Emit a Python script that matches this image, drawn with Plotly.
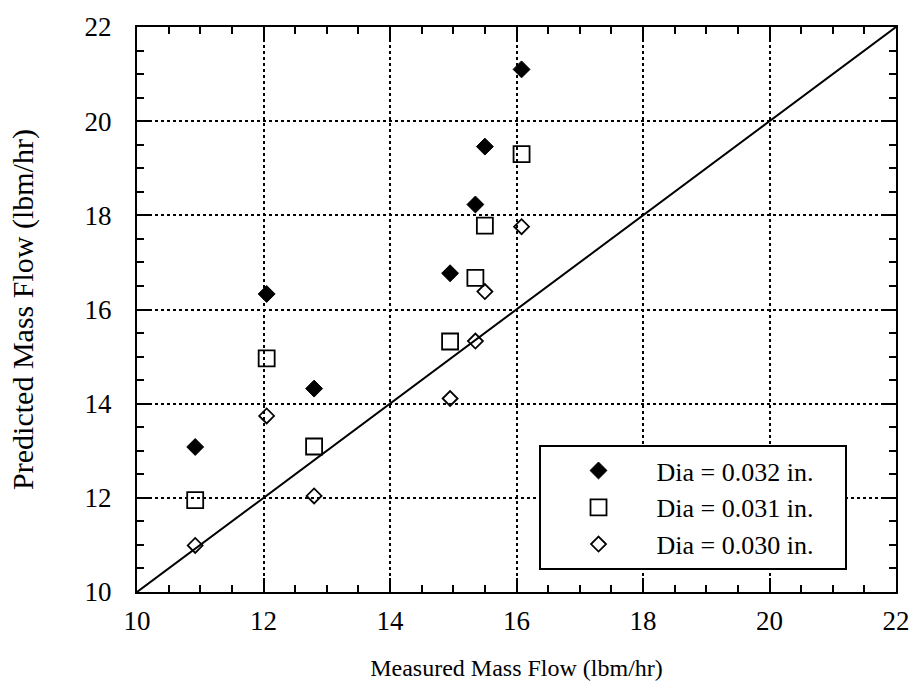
import plotly.graph_objects as go

# Measured vs predicted mass flow for three orifice diameters
measured = [10.92, 12.05, 12.8, 14.95, 15.35, 15.5, 16.08]
pred_032 = [13.08, 16.33, 14.32, 16.77, 18.23, 19.46, 21.1]
pred_031 = [11.95, 14.96, 13.09, 15.32, 16.67, 17.78, 19.3]
pred_030 = [10.99, 13.74, 12.04, 14.11, 15.33, 16.38, 17.76]
labels = ["Dia = 0.032 in.", "Dia = 0.031 in.", "Dia = 0.030 in."]
ref_line = [10, 22]

FONT = "Liberation Serif, Times New Roman, serif"
PAD = "\u00a0\u00a0\u00a0\u00a0"

fig = go.Figure()
fig.add_trace(go.Scatter(x=ref_line, y=ref_line, mode="lines",
                         line=dict(color="black", width=2), showlegend=False,
                         hoverinfo="skip"))
fig.add_trace(go.Scatter(x=measured, y=pred_032, mode="markers", name=labels[0] + PAD,
                         marker=dict(symbol="diamond", size=13, color="black",
                                     line=dict(color="black", width=1))))
fig.add_trace(go.Scatter(x=measured, y=pred_031, mode="markers", name=labels[1] + PAD,
                         marker=dict(symbol="square-open", size=16, color="black",
                                     line=dict(color="black", width=1.8))))
fig.add_trace(go.Scatter(x=measured, y=pred_030, mode="markers", name=labels[2] + PAD,
                         marker=dict(symbol="diamond-open", size=11.5, color="black",
                                     line=dict(color="black", width=1.8))))

axis_common = dict(
    range=[10, 22], dtick=2, tick0=10,
    showline=True, linecolor="black", linewidth=2, mirror="allticks",
    ticks="inside", ticklen=14, tickwidth=1.5, tickcolor="black",
    showgrid=True, gridcolor="black", griddash="dot", gridwidth=1.5,
    zeroline=False,
    minor=dict(dtick=0.5, ticks="inside", ticklen=7, tickwidth=1.5,
               tickcolor="black", showgrid=False),
    tickfont=dict(family=FONT, size=27, color="black"),
)

fig.update_xaxes(**axis_common, ticklabelstandoff=4,
                 title=dict(text="Measured Mass Flow (lbm/hr)", standoff=24,
                            font=dict(family=FONT, size=24, color="black")))
fig.update_yaxes(**axis_common, ticklabelstandoff=18,
                 title=dict(text="Predicted Mass Flow (lbm/hr)", standoff=42,
                            font=dict(family=FONT, size=30, color="black")))

fig.update_layout(
    width=922, height=689,
    margin=dict(l=137, r=12, t=24, b=96),
    plot_bgcolor="white", paper_bgcolor="white",
    font=dict(family=FONT, color="black"),
    legend=dict(x=0.529, y=0.26, xanchor="left", yanchor="top",
                bgcolor="white", bordercolor="black", borderwidth=2,
                font=dict(family=FONT, size=26, color="black"),
                itemwidth=106),
)

fig.write_html("out.html")
